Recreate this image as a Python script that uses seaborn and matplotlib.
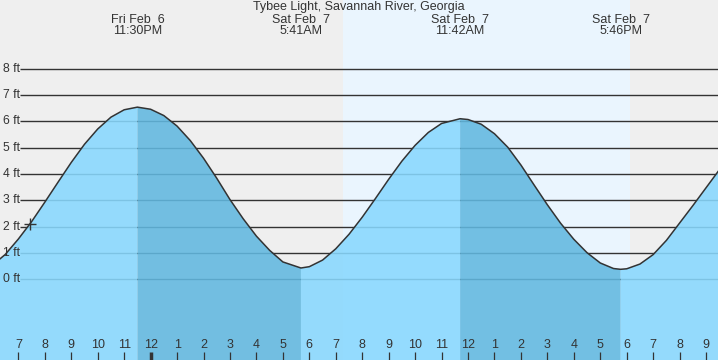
import matplotlib
matplotlib.use("Agg")
import matplotlib.pyplot as plt
import numpy as np
import pandas as pd
import seaborn as sns

# tide height (ft), hours counted from midnight Fri/Sat
hours = [-6.0, -5.5, -5.0, -4.5, -4.0, -3.5, -3.0, -2.5, -2.0, -1.5, -1.0, -0.5,
         0.0, 0.5, 1.0, 1.5, 2.0, 2.5, 3.0, 3.5, 4.0, 4.5, 5.0, 5.683,
         6.0, 6.5, 7.0, 7.5, 8.0, 8.5, 9.0, 9.5, 10.0, 10.5, 11.0, 11.7,
         12.0, 12.5, 13.0, 13.5, 14.0, 14.5, 15.0, 15.5, 16.0, 16.5, 17.0, 17.5, 17.767,
         18.0, 18.5, 19.0, 19.5, 20.0, 20.5, 21.0, 21.5, 22.0]
height = [0.52, 0.94, 1.53, 2.19, 2.93, 3.69, 4.44, 5.13, 5.71, 6.16, 6.44, 6.54,
          6.46, 6.22, 5.82, 5.27, 4.60, 3.84, 3.03, 2.30, 1.64, 1.10, 0.66, 0.43,
          0.48, 0.73, 1.16, 1.71, 2.36, 3.07, 3.80, 4.49, 5.09, 5.58, 5.92, 6.10,
          6.07, 5.89, 5.53, 5.02, 4.34, 3.58, 2.83, 2.13, 1.52, 1.01, 0.62, 0.41, 0.38,
          0.40, 0.58, 0.94, 1.48, 2.14, 2.80, 3.48, 4.16, 4.81]

# high / low tide events
event_hours = [-0.5, 5.683, 11.7, 17.767]
event_labels = ["Fri Feb  6\n11:30PM", "Sat Feb  7\n5:41AM",
                "Sat Feb  7\n11:42AM", "Sat Feb  7\n5:46PM"]

# current time marker
now_hour, now_ft = -4.56, 2.12

# daylight (sunrise / sunset)
sunrise, sunset = 7.27, 18.14

tick_hours = list(range(-5, 22))
tick_labels = ["7", "8", "9", "10", "11", "12", "1", "2", "3", "4", "5", "6", "7",
               "8", "9", "10", "11", "12", "1", "2", "3", "4", "5", "6", "7", "8", "9"]
ft_levels = [0, 1, 2, 3, 4, 5, 6, 7, 8]
ft_labels = ["0 ft", "1 ft", "2 ft", "3 ft", "4 ft", "5 ft", "6 ft", "7 ft", "8 ft"]

df = pd.DataFrame({"hour": hours, "ft": height})
# falling tide (high -> low) is shaded darker; extremes belong to both parts
falling = ((df["hour"] >= event_hours[0]) & (df["hour"] <= event_hours[1])) | \
          ((df["hour"] >= event_hours[2]) & (df["hour"] <= event_hours[3]))
rising = ~(((df["hour"] > event_hours[0]) & (df["hour"] < event_hours[1])) |
           ((df["hour"] > event_hours[2]) & (df["hour"] < event_hours[3])))

sns.set_style("white")
plt.rcParams["font.family"] = ["Liberation Sans", "DejaVu Sans"]

fig = plt.figure(figsize=(7.18, 3.6), dpi=100, facecolor="#efefef")
ax = fig.add_axes([0, 0, 1, 1])
ax.set_facecolor("#efefef")
ax.set_axisbelow(False)
ax.set_xlim(-5.694, 21.45)
ax.set_ylim(-3.065, 10.61)

# daylight band
ax.axvspan(sunrise, sunset, color="#eaf5fe", lw=0, zorder=0)

# grid lines + labels
ax.hlines(ft_levels, 0.0285, 1, transform=ax.get_yaxis_transform(),
          color="#333333", lw=1, zorder=1)
for lv, lb in zip(ft_levels, ft_labels):
    ax.text(0.004, lv, lb, transform=ax.get_yaxis_transform(), ha="left",
            va="center", fontsize=8.7, color="#333333", zorder=6)

# water
ax.fill_between(df["hour"], -4, df["ft"], where=rising, color="#88d8fe",
                alpha=0.88, lw=0, zorder=2)
ax.fill_between(df["hour"], -4, df["ft"], where=falling, color="#61b8e0",
                alpha=0.88, lw=0, zorder=2)
sns.lineplot(data=df, x="hour", y="ft", ax=ax, color="#333333", lw=1.1, zorder=4)
ax.plot([now_hour], [now_ft], marker="+", ms=8, mew=1, color="#333333", zorder=5)

# high/low labels
for h, lb in zip(event_hours, event_labels):
    ax.text(h, 1 - 25.5 / 360, lb, transform=ax.get_xaxis_transform(), ha="center",
            va="center", fontsize=9, color="#333333", linespacing=0.95)
fig.text(0.5, 1 - 7 / 360, "Tybee Light, Savannah River, Georgia", ha="center",
         va="center", fontsize=9, color="#333333")

# hour ticks inside the bottom edge
ax.set_xticks(tick_hours)
ax.set_xticklabels(tick_labels)
ax.tick_params(axis="x", direction="in", length=5.8, width=0.9, color="#333333",
               pad=-15, labelsize=9, labelcolor="#333333", bottom=True)
ax.xaxis.get_major_ticks()[5].tick1line.set_markeredgewidth(2.5)
ax.set_yticks([])
ax.set_xlabel("")
ax.set_ylabel("")
for s in ax.spines.values():
    s.set_visible(False)

fig.savefig("out.png", dpi=100, facecolor=fig.get_facecolor())
